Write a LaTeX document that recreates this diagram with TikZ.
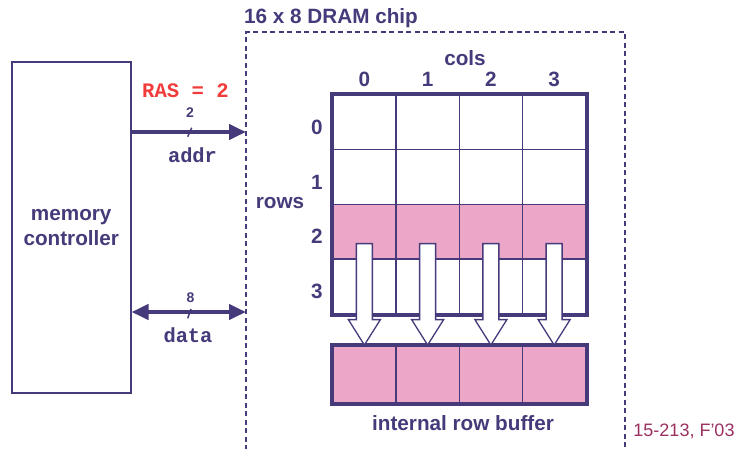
\documentclass[tikz,border=0pt]{standalone}
\usepackage{fontspec}
\setmainfont{Liberation Sans}
\newfontfamily\mymono{Liberation Mono}
\usetikzlibrary{arrows.meta,calc}
\definecolor{purp}{HTML}{463A7A}
\definecolor{pinkc}{HTML}{EBA6C8}
\definecolor{rasred}{HTML}{F23C3C}
\definecolor{footc}{HTML}{9A3060}
\begin{document}
\begin{tikzpicture}[x=1pt,y=-1pt,
  bigtext/.style={text=purp,font=\bfseries\fontsize{20.7}{25}\selectfont,inner sep=0pt},
  monotext/.style={text=purp,font=\mymono\bfseries\fontsize{20.4}{24}\selectfont,inner sep=0pt},
  smalltext/.style={text=purp,font=\bfseries\fontsize{14}{16}\selectfont,inner sep=0pt},
  cellbox/.style={draw=purp,line width=1.5pt,minimum width=63.25pt,minimum height=54.75pt,inner sep=0pt,anchor=north west,fill=white},
  bufbox/.style={draw=purp,line width=1.5pt,minimum width=63.25pt,minimum height=57pt,inner sep=0pt,anchor=north west,fill=pinkc},
  barrow/.style={draw=purp,line width=1.3pt,fill=white,line join=miter},
  bus/.style={draw=purp,line width=4pt},
  tick/.style={draw=purp,line width=1.5pt},
  chipline/.style={draw=purp,line width=1.5pt,dash pattern=on 5pt off 3.5pt}
]
\useasboundingbox (0,0) rectangle (738,448);
% memory controller
\node[draw=purp,line width=1.5pt,minimum width=119pt,minimum height=331pt,anchor=north west,inner sep=0pt,
      align=center,bigtext] (mc) at (11,61) {memory\\controller};
% chip outline
\coordinate (chipTL) at (246,32);
\coordinate (chipTR) at (625,32);
\coordinate (chipBL) at (246,450);
\coordinate (chipBR) at (625,450);
\draw[chipline] (chipBL) -- (chipTL) -- (chipTR) -- (chipBR);
\node[bigtext,anchor=west] (title) at (244,18) {16 x 8 DRAM chip};
% grid
\foreach \r in {0,...,3}{
  \foreach \c in {0,...,3}{
    \ifnum\r=2
      \node[cellbox,fill=pinkc] (c-\r-\c) at ({332+63.25*\c},{94+54.75*\r}) {};
    \else
      \node[cellbox] (c-\r-\c) at ({332+63.25*\c},{94+54.75*\r}) {};
    \fi
  }
}
\draw[draw=purp,line width=4pt] (c-0-0.north west) rectangle (c-3-3.south east);
% buffer
\foreach \c in {0,...,3}{
  \node[bufbox] (b-\c) at ({332+63.25*\c},345) {};
}
\draw[draw=purp,line width=4pt] (b-0.north west) rectangle (b-3.south east);
% labels
\node[bigtext] (cols) at (465,58) {cols};
\foreach \c in {0,...,3}{
  \node[bigtext] (cl-\c) at ($(c-0-\c.north)+(0,-14.5)$) {\c};
}
\foreach \r in {0,...,3}{
  \node[bigtext] (rl-\r) at ($(c-\r-0.west)+(-15,5)$) {\r};
}
\node[bigtext] (rows) at (280,203) {rows};
\node[bigtext] (irb) at (463,423) {internal row buffer};
\node[text=footc,font=\fontsize{18}{21}\selectfont,inner sep=0pt] (foot) at (684,431) {15-213, F’03};
% block arrows
\foreach \c in {0,...,3}{
  \coordinate (s-\c) at ($(c-2-\c.center)+(0,12)$);
  \draw[barrow] ($(s-\c)+(-8,0)$) -- ($(s-\c)+(8,0)$) -- ($(s-\c)+(8,76)$) -- ($(s-\c)+(16,76)$)
     -- (b-\c.north) -- ($(s-\c)+(-16,76)$) -- ($(s-\c)+(-8,76)$) -- cycle;
}
% addr bus
\coordinate (addrEnd) at (chipTL |- 0,132);
\draw[bus,-{Triangle[length=17pt,width=15pt]}] (mc.east |- 0,132) -- (addrEnd);
\draw[tick] (187.7,136.7) -- (191.7,127.7);
\node[text=rasred,font=\mymono\bfseries\fontsize{20.6}{24}\selectfont,inner sep=0pt] (ras) at (185.5,91) {RAS = 2};
\node[smalltext] (aw) at (190,112.5) {2};
\node[monotext] (addr) at (192.5,155) {addr};
% data bus
\coordinate (dataEnd) at (chipTL |- 0,312);
\draw[bus,{Triangle[length=17pt,width=15pt]}-{Triangle[length=17pt,width=15pt]}] (mc.east |- 0,312) -- (dataEnd);
\draw[tick] (187.7,318.3) -- (191,309);
\node[smalltext] (dw) at (190.5,297.5) {8};
\node[monotext] (data) at (188,335) {data};
\end{tikzpicture}
\end{document}
